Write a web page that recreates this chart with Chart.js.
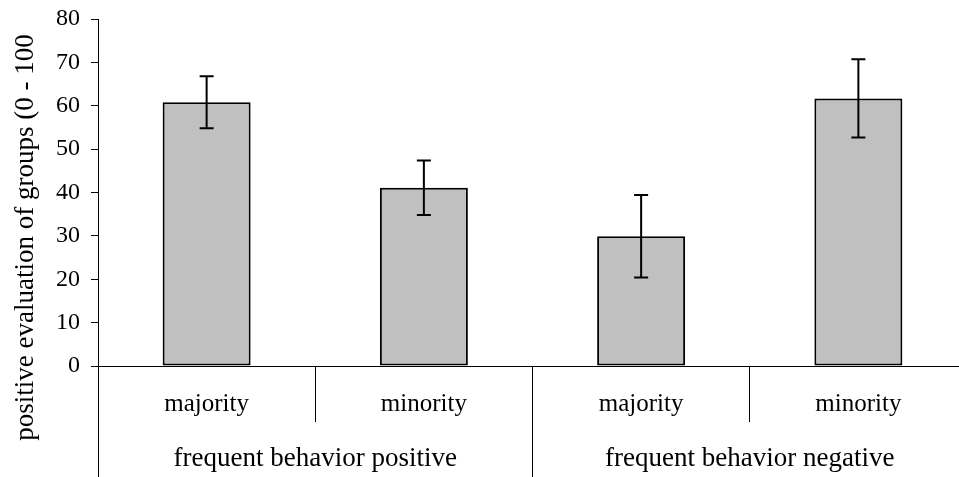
<!DOCTYPE html>
<html>
<head>
<meta charset="utf-8">
<title>Evaluation of majority and minority groups</title>
<script src="https://cdn.jsdelivr.net/npm/chart.js@4.4.1/dist/chart.umd.min.js"></script>
<style>
  html, body { margin: 0; padding: 0; background: #fff; overflow: hidden; }
  #wrap { width: 968px; height: 477px; }
</style>
</head>
<body>
<div id="wrap"><canvas id="chart" width="968" height="477"></canvas></div>
<script>
// Mean ratings per condition and their error margins
const categories = ['majority', 'minority', 'majority', 'minority'];
const groups = ['frequent behavior positive', 'frequent behavior negative'];
const means = [60.8, 41.1, 29.9, 61.7];
const errors = [6.0, 6.3, 9.5, 9.0];
const yTicks = [0, 10, 20, 30, 40, 50, 60, 70, 80];
const yTitle = 'positive evaluation of groups (0 - 100';

const SERIF = '"Liberation Serif", "Times New Roman", serif';

// Snap a 1px line to the pixel grid the same way the axis grid does
function alignPx(p) { return Math.round(p - 0.5) + 0.5; }

// Error bars: vertical whisker with caps at mean ± error
const errorBars = {
  id: 'errorBars',
  afterDatasetsDraw(chart) {
    const ctx = chart.ctx;
    const y = chart.scales.y;
    const meta = chart.getDatasetMeta(0);
    ctx.save();
    ctx.strokeStyle = '#000';
    ctx.lineWidth = 2;
    meta.data.forEach((bar, i) => {
      const yHi = y.getPixelForValue(means[i] + errors[i]);
      const yLo = y.getPixelForValue(means[i] - errors[i]);
      const cap = 7;
      ctx.beginPath();
      ctx.moveTo(bar.x, yHi); ctx.lineTo(bar.x, yLo);
      ctx.moveTo(bar.x - cap, yHi); ctx.lineTo(bar.x + cap, yHi);
      ctx.moveTo(bar.x - cap, yLo); ctx.lineTo(bar.x + cap, yLo);
      ctx.stroke();
    });
    ctx.restore();
  }
};

// Second label row (group names), long group dividers, rotated axis title
const groupRow = {
  id: 'groupRow',
  afterDraw(chart) {
    const ctx = chart.ctx;
    const x = chart.scales.x;
    const area = chart.chartArea;
    const n = categories.length;
    const per = n / groups.length;
    const step = x.width / n;
    const bottom = chart.height;
    ctx.save();
    ctx.strokeStyle = '#000';
    ctx.lineWidth = 1;
    for (let g = 0; g <= groups.length; g++) {
      const px = alignPx(x.left + g * per * step);
      ctx.beginPath();
      ctx.moveTo(px, area.bottom);
      ctx.lineTo(px, bottom);
      ctx.stroke();
    }
    ctx.fillStyle = '#000';
    ctx.font = '27px ' + SERIF;
    ctx.textAlign = 'center';
    ctx.textBaseline = 'alphabetic';
    groups.forEach((name, g) => {
      const cx = x.left + (g * per + per / 2) * step;
      ctx.fillText(name, cx, 466);
    });
    // y-axis title
    ctx.translate(33, 237.5);
    ctx.rotate(-Math.PI / 2);
    ctx.font = '27px ' + SERIF;
    ctx.textAlign = 'center';
    ctx.textBaseline = 'alphabetic';
    ctx.fillText(yTitle, 0, 0);
    ctx.restore();
  }
};

new Chart(document.getElementById('chart'), {
  type: 'bar',
  data: {
    labels: categories,
    datasets: [{
      data: means,
      backgroundColor: '#c0c0c0',
      borderColor: '#000',
      borderWidth: 2,
      borderSkipped: false,
      barPercentage: 0.405,
      categoryPercentage: 1.0
    }]
  },
  options: {
    responsive: false,
    animation: false,
    devicePixelRatio: 1,
    layout: { padding: { top: 19, right: 1, left: 0, bottom: 0 } },
    plugins: {
      legend: { display: false },
      tooltip: { enabled: false }
    },
    scales: {
      x: {
        afterFit(scale) {
          scale.height = 111;
          scale.paddingLeft = 0;
          scale.paddingRight = 0;
        },
        offset: true,
        grid: {
          offset: true,
          drawOnChartArea: false,
          drawTicks: true,
          tickLength: 56,
          color: '#000',
          lineWidth: 1
        },
        border: { display: true, color: '#000', width: 1 },
        ticks: {
          color: '#000',
          font: { family: SERIF, size: 25 },
          padding: -33,
          maxRotation: 0,
          autoSkip: false
        }
      },
      y: {
        afterFit(scale) {
          scale.width = 98;
          scale.paddingTop = 0;
          scale.paddingBottom = 0;
        },
        min: 0,
        max: 80,
        afterBuildTicks(scale) { scale.ticks = yTicks.map(v => ({ value: v })); },
        grid: {
          drawOnChartArea: false,
          drawTicks: true,
          tickLength: 7,
          color: '#000',
          lineWidth: 1
        },
        border: { display: true, color: '#000', width: 1 },
        ticks: {
          color: '#000',
          font: { family: SERIF, size: 24 },
          padding: 11
        }
      }
    }
  },
  plugins: [errorBars, groupRow]
});
</script>
</body>
</html>
